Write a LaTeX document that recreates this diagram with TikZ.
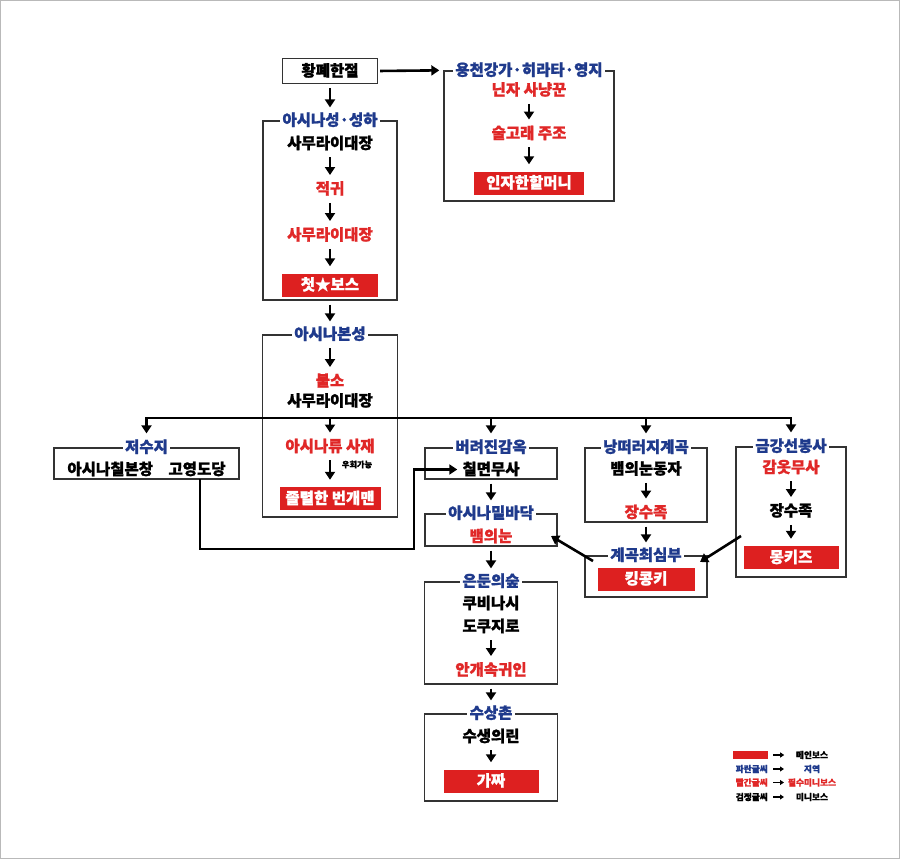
\documentclass[tikz,border=0pt]{standalone}
\usepackage{fontspec}
\setmainfont{Noto Sans CJK KR}[BoldFeatures={FakeBold=1.2}]
\usepackage{tikz}
\usetikzlibrary{positioning,arrows.meta}

\definecolor{regblue}{HTML}{1F3A8C}
\definecolor{redtxt}{HTML}{E02828}
\definecolor{bossred}{HTML}{DD2020}
\definecolor{boxline}{HTML}{333333}

\begin{document}
\begin{tikzpicture}[
  x=1pt, y=-1pt,
  every node/.style={font=\bfseries\fontsize{15.5}{17}\selectfont},
  txt/.style={inner sep=0pt, text height=12pt, text depth=1.5pt},
  rtxt/.style={txt, text=redtxt},
  region/.style={draw=boxline, line width=1.4pt, inner sep=0pt},
  title/.style={txt, fill=white, text=regblue, inner xsep=2.5pt},
  boss/.style={txt, fill=bossred, text=white, minimum height=23pt},
  flow/.style={-{Triangle[length=8pt,width=10pt]}, line width=2.6pt,
               shorten <=7pt, shorten >=7pt},
  hop/.style={flow, shorten <=4pt, shorten >=6pt},
  drop/.style={flow, shorten <=0pt},
  link/.style={-{Triangle[length=8pt,width=10pt]}, line width=2.6pt},
  fork/.style={line width=2.8pt, line cap=rect},
  note/.style={inner sep=0pt, font=\bfseries\fontsize{8.2}{9}\selectfont},
  legend/.style={inner sep=0pt, font=\bfseries\fontsize{8.7}{10}\selectfont},
  legarr/.style={-{Triangle[length=4pt,width=5pt]}, line width=1.4pt},
]
  \useasboundingbox (0,0) rectangle (900,859);
  \draw[gray!55, line width=1pt] (0.5,0.5) rectangle (899.5,858.5);

  % Temple and the Hirata estate
  \node[region, txt, minimum width=95pt, minimum height=25pt] (hwang) at (330,71) {황폐한절};
  \node[region, minimum width=170pt, minimum height=130pt] (yong) at (529,136) {};
  \node[title] (yongT) at (yong.north) {용천강가·히라타·영지};
  \node[rtxt] (ninja) at (529,90) {닌자 사냥꾼};
  \node[rtxt] (sulgo) at (529,133.5) {술고래 주조};
  \node[boss, minimum width=110pt] (halmeoni) at (529,183) {인자한할머니};

  % Ashina outskirts
  \node[region, minimum width=134pt, minimum height=179pt] (seongha) at (330,210.5) {};
  \node[title] (seonghaT) at (seongha.north) {아시나성·성하};
  \node[txt] (samurai1) at (330,143.5) {사무라이대장};
  \node[rtxt] (jeokgwi) at (330,189) {적귀};
  \node[rtxt] (samurai2) at (330,235) {사무라이대장};
  \node[boss, minimum width=96pt] (firstboss) at (330,285) {첫★보스};

  % Ashina castle
  \node[region, minimum width=135pt, minimum height=182pt] (bonseong) at (330,426) {};
  \node[title] (bonseongT) at (bonseong.north) {아시나본성};
  \node[rtxt] (bulso) at (330,381) {불소};
  \node[txt] (samurai3) at (330,401) {사무라이대장};
  \node[rtxt] (saje) at (330,446.5) {아시나류 사재};
  \node[note] (uhoe) at (357,464.5) {우회가능};
  \node[boss, minimum width=101pt] (genichiro) at (330,498.5) {졸렬한 번개맨};

  % Reservoir
  \node[region, minimum width=185pt, minimum height=31pt] (jeosuji) at (146.5,463.5) {};
  \node[title] (jeosujiT) at (jeosuji.north) {저수지};
  \node[txt] (jeosujiTxt) at (146.5,469.5) {아시나칠본창\quad 고영도당};

  % Abandoned dungeon down to the village
  \node[region, minimum width=132pt, minimum height=31pt] (gamok) at (491,463.5) {};
  \node[title] (gamokT) at (gamok.north) {버려진감옥};
  \node[txt] (chilmyeon) at (491,469.5) {칠면무사};
  \node[region, minimum width=132pt, minimum height=32pt] (mitbadak) at (491,530) {};
  \node[title] (mitbadakT) at (mitbadak.north) {아시나밑바닥};
  \node[rtxt] (baemnun) at (491,536.5) {뱀의눈};
  \node[region, minimum width=133pt, minimum height=102pt] (eundun) at (491,633) {};
  \node[title] (eundunT) at (eundun.north) {은둔의숲};
  \node[txt] (kubinashi) at (491,603.5) {쿠비나시};
  \node[txt] (dokujiro) at (491,626.5) {도쿠지로};
  \node[rtxt] (angae) at (491,670) {안개속귀인};
  \node[region, minimum width=133pt, minimum height=87pt] (susang) at (491,757.5) {};
  \node[title] (susangT) at (susang.north) {수상촌};
  \node[txt] (sueng) at (491,736.5) {수생의린};
  \node[boss, minimum width=95pt] (gajja) at (491,781) {가짜};

  % Sunken valley
  \node[region, minimum width=122pt, minimum height=74pt] (naktteo) at (646,485) {};
  \node[title] (naktteoT) at (naktteo.north) {낭떠러지계곡};
  \node[txt] (baemdongja) at (646,469) {뱀의눈동자};
  \node[rtxt] (jangsu1) at (646,512.5) {장수족};
  \node[region, minimum width=122pt, minimum height=41pt] (simbu) at (646,576.5) {};
  \node[title] (simbuT) at (simbu.north) {계곡최심부};
  \node[boss, minimum width=97pt] (kingkong) at (646,579) {킹콩키};

  % Senpou temple
  \node[region, minimum width=110pt, minimum height=130pt] (geumgang) at (791,512) {};
  \node[title] (geumgangT) at (geumgang.north) {금강선봉사};
  \node[rtxt] (gamot) at (791,467.5) {감옷무사};
  \node[txt] (jangsu2) at (791,511) {장수족};
  \node[boss, minimum width=95pt] (monkeys) at (791,557.5) {몽키즈};

  % Arrows inside and between areas
  \draw[link, shorten <=2pt, shorten >=4pt] (hwang.east) -- (yong.north west);
  \draw[flow] (ninja) -- (sulgo);
  \draw[flow] (sulgo) -- (halmeoni);
  \draw[hop] (hwang) -- (seonghaT);
  \draw[flow] (samurai1) -- (jeokgwi);
  \draw[flow] (jeokgwi) -- (samurai2);
  \draw[flow] (samurai2) -- (firstboss);
  \draw[hop] (seongha) -- (bonseongT);
  \draw[flow] (bonseongT) -- (bulso);
  \draw[flow] (saje) -- (genichiro);
  \draw[hop] (gamok) -- (mitbadakT);
  \draw[hop] (mitbadak) -- (eundunT);
  \draw[flow] (dokujiro) -- (angae);
  \draw[hop] (eundun) -- (susangT);
  \draw[flow] (sueng) -- (gajja);
  \draw[flow] (baemdongja) -- (jangsu1);
  \draw[hop] (naktteo) -- (simbuT);
  \draw[flow] (gamot) -- (jangsu2);
  \draw[flow] (jangsu2) -- (monkeys);

  % Branching bar below the castle
  \coordinate (forkY) at (0,418);
  \draw[fork] (jeosujiT.north |- forkY) -- (geumgangT.north |- forkY);
  \foreach \t in {jeosujiT, saje, gamokT, naktteoT, geumgangT} {
    \draw[drop] (\t.north |- forkY) -- (\t.north);
  }

  % Shortcuts
  \coordinate (jeoOut) at (200,479);
  \coordinate (bend) at (414,549);
  \draw[link, shorten >=5pt] (jeoOut) |- (bend) |- (chilmyeon.west);
  \coordinate (kkOut) at (593,561);
  \coordinate (kkIn) at (551,536);
  \draw[link] (kkOut) -- (kkIn);
  \coordinate (ggOut) at (741,536);
  \coordinate (ggIn) at (700,562);
  \draw[link] (ggOut) -- (ggIn);

  % Legend
  \node[fill=bossred, minimum width=35pt, minimum height=8pt, inner sep=0pt] (legBoss) at (750.5,755) {};
  \node[legend, text=regblue, anchor=east] (legBlue) at (768,769) {파란글씨};
  \node[legend, text=redtxt, anchor=east] (legRed) at (768,782.5) {빨간글씨};
  \node[legend, anchor=east] (legBlack) at (768,797) {검정글씨};
  \node[legend] (valBoss) at (812,755) {메인보스};
  \node[legend, text=regblue] (valBlue) at (812,769) {지역};
  \node[legend, text=redtxt] (valRed) at (812,782.5) {필수미니보스};
  \node[legend] (valBlack) at (812,797) {미니보스};
  \foreach \k in {legBoss, legBlue, legRed, legBlack} {
    \draw[legarr] ([xshift=5pt]\k.east) -- ([xshift=16pt]\k.east);
  }
\end{tikzpicture}
\end{document}
